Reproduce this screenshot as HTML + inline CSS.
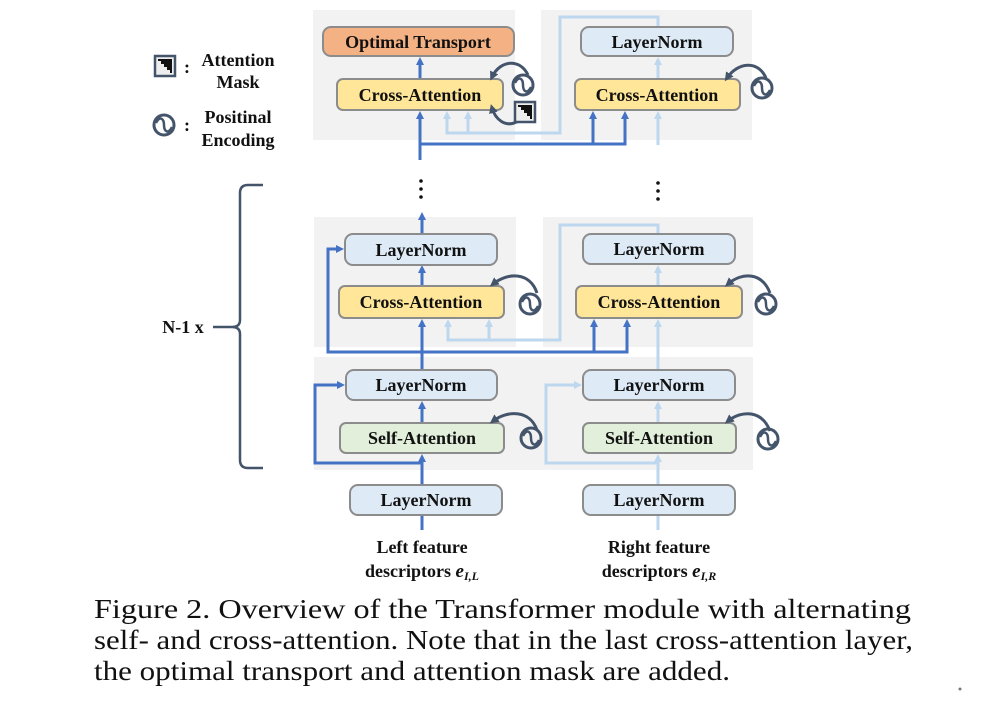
<!DOCTYPE html>
<html><head><meta charset="utf-8"><style>
html,body{margin:0;padding:0;background:#fff;}
svg{display:block;}
.b{font-family:"Liberation Serif",serif;font-weight:bold;font-size:18px;fill:#111;text-anchor:middle;}
.cap{font-family:"Liberation Serif",serif;font-size:27px;fill:#111;}
</style></head><body>
<svg width="984" height="712" viewBox="0 0 984 712" xmlns="http://www.w3.org/2000/svg">
<defs>
<marker id="ad" markerWidth="8" markerHeight="8" refX="4" refY="4" orient="auto" markerUnits="userSpaceOnUse"><path d="M0,0 L8,4 L0,8 z" fill="#4472c4"/></marker>
<marker id="al" markerWidth="8" markerHeight="8" refX="4" refY="4" orient="auto" markerUnits="userSpaceOnUse"><path d="M0,0 L8,4 L0,8 z" fill="#bdd7ee"/></marker>
<marker id="ag" markerWidth="9" markerHeight="9" refX="5" refY="4.5" orient="auto" markerUnits="userSpaceOnUse"><path d="M0,0 L9,4.5 L0,9 z" fill="#44546a"/></marker>
<g id="pe"><circle cx="0" cy="0" r="10" fill="none" stroke="#44546a" stroke-width="3"/><path d="M-8,-2 C-4,-10 0,-6 0,0 C0,6 4,10 8,2" fill="none" stroke="#44546a" stroke-width="2.5"/></g>
<g id="mask"><rect x="0" y="0" width="20" height="20" fill="#eee" stroke="#44546a" stroke-width="2.5"/><path d="M3,3 L17,3 L17,17 L15,17 L15,14 L12,14 L12,11 L9,11 L9,8 L6,8 L6,5 L3,5 z" fill="#111"/></g>
</defs>

<rect x="313" y="10" width="202" height="130" fill="#f2f2f2"/>
<rect x="541" y="10" width="211" height="130" fill="#f2f2f2"/>
<rect x="314" y="217" width="202" height="130" fill="#f2f2f2"/>
<rect x="543" y="217" width="210" height="130" fill="#f2f2f2"/>
<rect x="314" y="357" width="439" height="113" fill="#f2f2f2"/>

<g stroke="#bdd7ee" stroke-width="3" fill="none">
<path d="M658,530 L658,515"/>
<path d="M658,485 L658,458" marker-end="url(#al)"/>
<path d="M658,423 L658,405" marker-end="url(#al)"/>
<path d="M658,463 L546,463 L546,385 L578,385" marker-end="url(#al)"/>
<path d="M658,370 L658,323" marker-end="url(#al)"/>
<path d="M658,286 L658,269" marker-end="url(#al)"/>
<path d="M658,234 L658,225 L560,225 L560,340 L448,340 L448,323" marker-end="url(#al)"/>
<path d="M489,340 L489,323" marker-end="url(#al)"/>
<path d="M658,145 L658,115" marker-end="url(#al)"/>
<path d="M658,79 L658,61" marker-end="url(#al)"/>
<path d="M658,27 L658,17 L560,17 L560,133 L447,133 L447,115" marker-end="url(#al)"/>
<path d="M468,133 L468,115" marker-end="url(#al)"/>
</g>
<g stroke="#4472c4" stroke-width="3" fill="none">
<path d="M422,530 L422,515"/>
<path d="M422,485 L422,458" marker-end="url(#ad)"/>
<path d="M422,423 L422,405" marker-end="url(#ad)"/>
<path d="M422,463 L315,463 L315,385 L341,385" marker-end="url(#ad)"/>
<path d="M422,370 L422,323" marker-end="url(#ad)"/>
<path d="M422,286 L422,269" marker-end="url(#ad)"/>
<path d="M422,234 L422,216" marker-end="url(#ad)"/>
<path d="M422,352 L328,352 L328,249 L340,249" marker-end="url(#ad)"/>
<path d="M422,352 L627,352 L627,323" marker-end="url(#ad)"/>
<path d="M594,352 L594,323" marker-end="url(#ad)"/>
<path d="M420,160 L420,115" marker-end="url(#ad)"/>
<path d="M420,144 L625,144 L625,115" marker-end="url(#ad)"/>
<path d="M593,144 L593,115" marker-end="url(#ad)"/>
<path d="M420,79 L420,61" marker-end="url(#ad)"/>
</g>
<g fill="#111"><circle cx="421" cy="181" r="1.8"/><circle cx="421" cy="189" r="1.8"/><circle cx="421" cy="197" r="1.8"/>
<circle cx="658" cy="183" r="1.8"/><circle cx="658" cy="191" r="1.8"/><circle cx="658" cy="199" r="1.8"/></g>

<g stroke="#8c8c8c" stroke-width="2">
<rect x="323" y="27" width="191" height="29" rx="8" fill="#f4b183"/>
<rect x="337" y="79" width="166" height="31" rx="6" fill="#ffe699"/>
<rect x="581" y="27" width="152" height="29" rx="8" fill="#deebf7"/>
<rect x="575" y="79" width="165" height="31" rx="6" fill="#ffe699"/>
<rect x="345" y="234" width="152" height="31" rx="8" fill="#deebf7"/>
<rect x="339" y="286" width="165" height="32" rx="6" fill="#ffe699"/>
<rect x="583" y="234" width="152" height="30" rx="8" fill="#deebf7"/>
<rect x="576" y="286" width="166" height="32" rx="6" fill="#ffe699"/>
<rect x="346" y="370" width="151" height="30" rx="8" fill="#deebf7"/>
<rect x="340" y="423" width="164" height="30" rx="6" fill="#e2efda"/>
<rect x="583" y="370" width="152" height="30" rx="8" fill="#deebf7"/>
<rect x="583" y="423" width="153" height="30" rx="6" fill="#e2efda"/>
<rect x="350" y="485" width="152" height="30" rx="8" fill="#deebf7"/>
<rect x="583" y="485" width="152" height="30" rx="8" fill="#deebf7"/>
</g>
<text class="b" x="418" y="48">Optimal Transport</text>
<text class="b" x="420" y="101">Cross-Attention</text>
<text class="b" x="657" y="48">LayerNorm</text>
<text class="b" x="657" y="101">Cross-Attention</text>
<text class="b" x="421" y="256">LayerNorm</text>
<text class="b" x="421" y="308">Cross-Attention</text>
<text class="b" x="659" y="255">LayerNorm</text>
<text class="b" x="659" y="308">Cross-Attention</text>
<text class="b" x="421" y="391">LayerNorm</text>
<text class="b" x="422" y="444">Self-Attention</text>
<text class="b" x="659" y="391">LayerNorm</text>
<text class="b" x="659" y="444">Self-Attention</text>
<text class="b" x="426" y="506">LayerNorm</text>
<text class="b" x="659" y="506">LayerNorm</text>

<g stroke="#44546a" stroke-width="3" fill="none">
<path d="M528,75 C520,58 500,60 492,77" marker-end="url(#ag)"/>
<path d="M520,120 C505,130 495,118 492,108" marker-end="url(#ag)"/>
<path d="M766,78 C758,60 738,62 727,78" marker-end="url(#ag)"/>
<path d="M537,293 C530,272 508,272 493,284" marker-end="url(#ag)"/>
<path d="M770,293 C762,272 742,272 728,284" marker-end="url(#ag)"/>
<path d="M537,430 C530,410 508,410 493,421" marker-end="url(#ag)"/>
<path d="M770,431 C762,410 742,410 728,421" marker-end="url(#ag)"/>
</g>
<use href="#pe" x="523" y="85"/>
<use href="#mask" x="515" y="102"/>
<use href="#pe" x="762" y="88"/>
<use href="#pe" x="530" y="304"/>
<use href="#pe" x="766" y="304"/>
<use href="#pe" x="531" y="438"/>
<use href="#pe" x="768" y="439"/>

<use href="#mask" x="155" y="56"/>
<text class="b" x="187" y="73" font-size="18">:</text>
<text class="b" x="238" y="66">Attention</text>
<text class="b" x="238" y="88">Mask</text>
<use href="#pe" x="164" y="125"/>
<text class="b" x="187" y="131" font-size="18">:</text>
<text class="b" x="238" y="123">Positinal</text>
<text class="b" x="238" y="146">Encoding</text>

<path d="M263,185 L248,185 Q240,185 240,193 L240,320 Q240,327 232,327 L213,327 M232,327 Q240,327 240,334 L240,460 Q240,468 248,468 L263,468" fill="none" stroke="#44546a" stroke-width="2.5"/>
<text class="b" x="183" y="333">N-1 x</text>

<text class="b" x="422" y="553">Left feature</text>
<text class="b" x="422" y="577">descriptors <tspan font-style="italic" font-size="19">e</tspan><tspan font-style="italic" font-size="12" dy="3">I,L</tspan></text>
<text class="b" x="659" y="553">Right feature</text>
<text class="b" x="659" y="577">descriptors <tspan font-style="italic" font-size="19">e</tspan><tspan font-style="italic" font-size="12" dy="3">I,R</tspan></text>

<text class="cap" x="94" y="618" textLength="817" lengthAdjust="spacingAndGlyphs">Figure 2. Overview of the Transformer module with alternating</text>
<text class="cap" x="94" y="649" textLength="819" lengthAdjust="spacingAndGlyphs">self- and cross-attention. Note that in the last cross-attention layer,</text>
<text class="cap" x="94" y="680" textLength="636" lengthAdjust="spacingAndGlyphs">the optimal transport and attention mask are added.</text>
<circle cx="960" cy="689" r="1.5" fill="#777"/>
</svg>
</body></html>
